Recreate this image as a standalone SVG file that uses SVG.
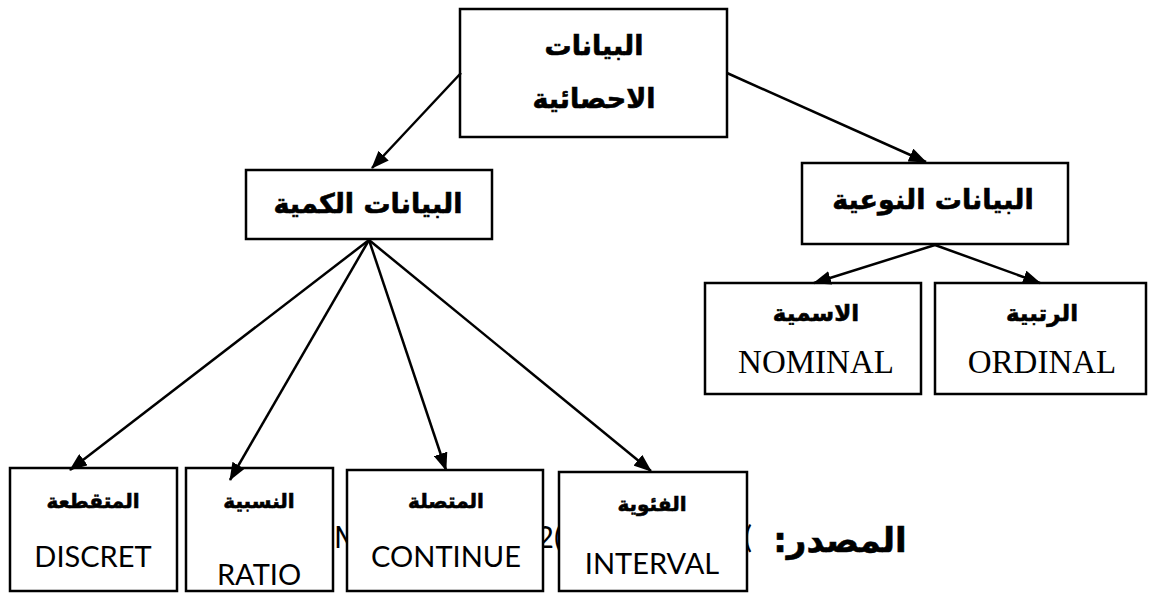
<svg xmlns="http://www.w3.org/2000/svg" width="1150" height="593" viewBox="0 0 1150 593">
<style>
.box{fill:#fff;stroke:#000;stroke-width:2.5}
.ar{font-family:"DejaVu Sans","Liberation Sans",sans-serif;font-weight:bold;text-anchor:middle;fill:#000;stroke:#000;stroke-width:0.6}
.tm{font-family:"Liberation Serif",serif;text-anchor:middle;fill:#000;font-size:33px}
.lt{font-family:Lato,"Open Sans",sans-serif;text-anchor:middle;fill:#000;font-size:29px}
.ln{stroke:#000;stroke-width:2.5;fill:none;marker-end:url(#ah)}
</style>
<defs>
<marker id="ah" markerUnits="userSpaceOnUse" viewBox="0 0 18 14" markerWidth="18" markerHeight="14" refX="17" refY="7" orient="auto">
<path d="M0,0 L18,7 L0,14 z" fill="#000"/>
</marker>
</defs>
<rect width="1150" height="593" fill="#fff"/>
<g id="source-fragments">
<text x="334" y="548" style="font-family:Lato,sans-serif;font-size:30px" fill="#000">M</text>
<text x="562" y="548" text-anchor="end" style="font-family:Lato,sans-serif;font-size:30px" fill="#000">2(</text>
<text x="744" y="548" style="font-family:Lato,sans-serif;font-size:30px" fill="#000">(</text>
</g>
<g id="source">
<text x="840" y="552" class="ar" style="font-size:34px" direction="rtl">المصدر:</text>
</g>
<g id="n-root">
<rect class="box" x="460" y="9" width="267" height="128"/>
<text x="594" y="55" class="ar" style="font-size:27px">البيانات</text>
<text x="594" y="108" class="ar" style="font-size:27px">الاحصائية</text>
</g>
<g id="n-quant">
<rect class="box" x="246" y="170" width="246" height="69"/>
<text x="368" y="213" class="ar" style="font-size:27px">البيانات الكمية</text>
</g>
<g id="n-qual">
<rect class="box" x="802" y="163" width="266" height="81"/>
<text x="933" y="209" class="ar" style="font-size:27px">البيانات النوعية</text>
</g>
<g id="n-nominal">
<rect class="box" x="705" y="283" width="216" height="111"/>
<text x="816" y="321" class="ar" style="font-size:23px">الاسمية</text>
<text x="816" y="373" class="tm">NOMINAL</text>
</g>
<g id="n-ordinal">
<rect class="box" x="935" y="283" width="211" height="111"/>
<text x="1042" y="321" class="ar" style="font-size:23px">الرتبية</text>
<text x="1042" y="373" class="tm">ORDINAL</text>
</g>
<g id="n-discret">
<rect class="box" x="10" y="468" width="167" height="123"/>
<text x="93" y="508" class="ar" style="font-size:20px">المتقطعة</text>
<text x="93" y="567" class="lt">DISCRET</text>
</g>
<g id="n-ratio">
<rect class="box" x="186" y="468" width="147" height="123"/>
<text x="259" y="508" class="ar" style="font-size:20px">النسبية</text>
<text x="259" y="585" class="lt">RATIO</text>
</g>
<g id="n-continue">
<rect class="box" x="347" y="470" width="196" height="121"/>
<text x="446" y="508" class="ar" style="font-size:20px">المتصلة</text>
<text x="446" y="567" class="lt">CONTINUE</text>
</g>
<g id="n-interval">
<rect class="box" x="559" y="472" width="188" height="119"/>
<text x="652" y="511" class="ar" style="font-size:20px">الفئوية</text>
<text x="652" y="574" class="lt">INTERVAL</text>
</g>
<g id="connectors">
<line class="ln" x1="461" y1="73" x2="372" y2="168"/>
<line class="ln" x1="727" y1="73" x2="926" y2="162"/>
<line class="ln" x1="935" y1="245" x2="814" y2="283"/>
<line class="ln" x1="935" y1="245" x2="1040" y2="283"/>
<line class="ln" x1="369" y1="240" x2="70" y2="470"/>
<line class="ln" x1="369" y1="240" x2="230" y2="480"/>
<line class="ln" x1="369" y1="240" x2="446" y2="470"/>
<line class="ln" x1="369" y1="240" x2="651" y2="471"/>
</g>
</svg>
